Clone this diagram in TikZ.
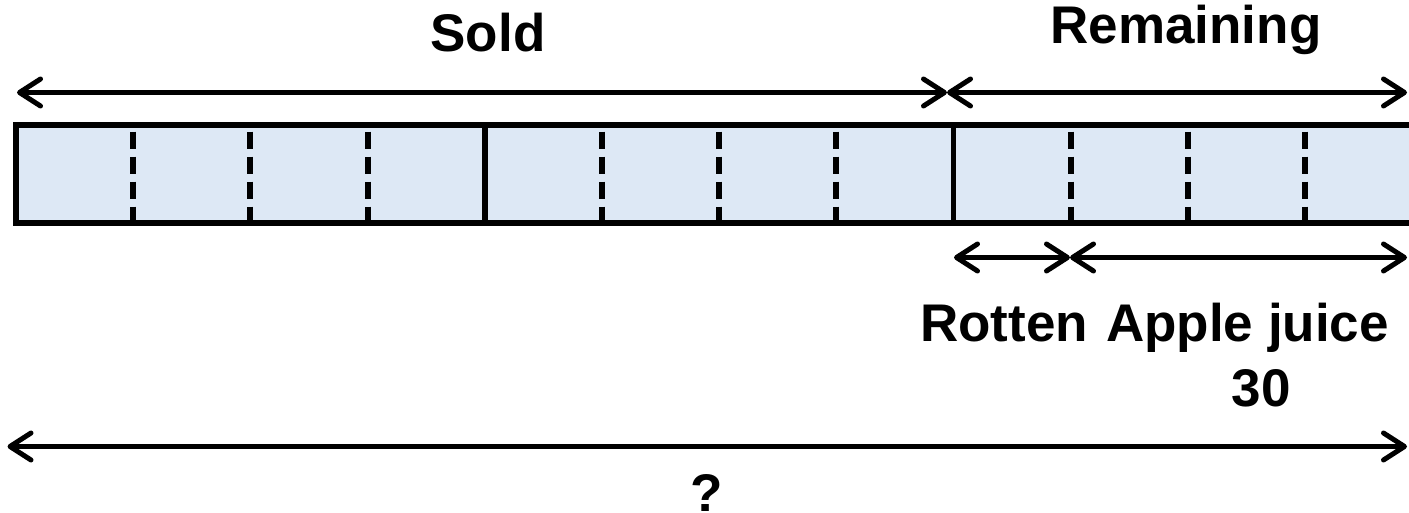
\documentclass[tikz,border=0pt]{standalone}
\usepackage{fontspec}
\setmainfont{Liberation Sans}
\usetikzlibrary{arrows.meta}
\definecolor{barfill}{RGB}{221,232,245}
\tikzset{
  dim/.style={line width=5pt, line cap=round,
    {Straight Barb[length=21pt,width=27pt,line cap=round,line join=round]}-{Straight Barb[length=21pt,width=27pt,line cap=round,line join=round]}},
  bar/.style={draw=black, fill=barfill, line width=6pt},
  solid div/.style={line width=5.5pt},
  dash div/.style={line width=6pt, dash pattern=on 17pt off 8pt, dash phase=18.3pt},
  lbl/.style={font=\bfseries\fontsize{53pt}{60pt}\selectfont, inner sep=0pt, anchor=base}
}
\begin{document}
\begin{tikzpicture}[x=1pt,y=-1pt]
\useasboundingbox (0,0) rectangle (1409,513);
\clip (0,0) rectangle (1409,513);
% bar
\def\u{117.2}
\node[bar, minimum width=12*117.2pt, minimum height=98.3pt, inner sep=0pt, anchor=north west, outer sep=0pt] (barbox) at (16,125) {};
\foreach \i in {1,2,3,5,6,7,9,10,11} {
  \draw[dash div] (16+\i*\u,125) -- (16+\i*\u,223.3);
}
\foreach \i in {4,8} {
  \draw[solid div] (16+\i*\u,125) -- (16+\i*\u,223.3);
}
% coordinates
\coordinate (sL) at (17,92.5);
\coordinate (sM) at (947,92.5);
\coordinate (sR) at (1407,92.5);
\coordinate (rL) at (954,257.5);
\coordinate (rM) at (1070,257.5);
\coordinate (rR) at (1407,257.5);
\coordinate (qL) at (7.5,446.5);
\coordinate (qR) at (1407,446.5);
\draw[dim] (sL) -- (sM);
\draw[dim] (sM) -- (sR);
\draw[dim] (rL) -- (rM);
\draw[dim] (rM) -- (rR);
\draw[dim] (qL) -- (qR);
% labels
\node[lbl] (sold) at (488,52) {Sold};
\node[lbl] (rem) at (1186,43.5) {Remaining};
\node[lbl] (rot) at (1004,341) {Rotten};
\node[lbl, anchor=base west] (aj) at (1106,341) {Apple juice};
\node[lbl] (thirty) at (1261,406) {30};
\node[lbl] (q) at (707,511) {?};
\end{tikzpicture}
\end{document}
